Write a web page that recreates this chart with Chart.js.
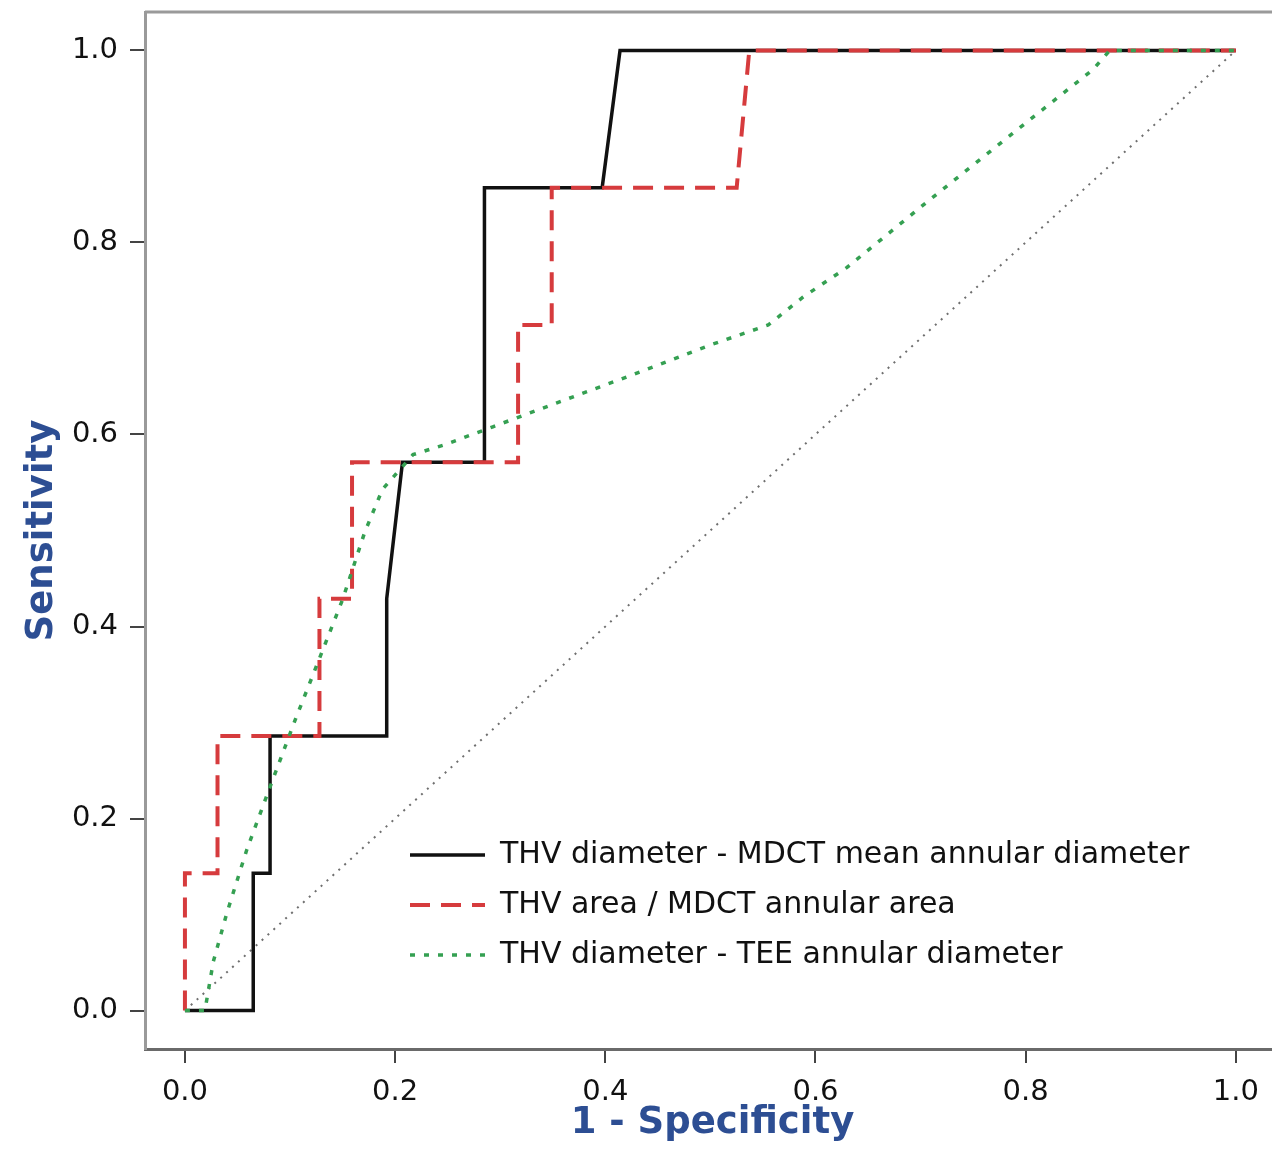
<!DOCTYPE html>
<html>
<head>
<meta charset="utf-8">
<script src="https://cdn.jsdelivr.net/npm/chart.js@4/dist/chart.umd.min.js"></script>
<style>
  html, body { margin: 0; padding: 0; background: #fff; overflow: hidden; }
  #wrap { position: relative; width: 1272px; height: 1152px; overflow: hidden; }
  canvas { display: block; }
</style>
</head>
<body>
<div id="wrap"><canvas id="c" width="1280" height="1152"></canvas></div>
<script>
// ---- data ----
const seriesNames = [
  "THV diameter - MDCT mean annular diameter",
  "THV area / MDCT annular area",
  "THV diameter - TEE annular diameter"
];

// THV diameter - MDCT mean annular diameter (black solid)
const mdctDiamX = [0, 0.065, 0.065, 0.081, 0.081, 0.192, 0.192, 0.207, 0.285, 0.285, 0.397, 0.414, 1.0];
const mdctDiamY = [0, 0,     0.143, 0.143, 0.286, 0.286, 0.429, 0.571, 0.571, 0.857, 0.857, 1.0,   1.0];

// THV area / MDCT annular area (red dashed)
const mdctAreaX = [0, 0,     0.031, 0.031, 0.128, 0.128, 0.159, 0.159, 0.317, 0.317, 0.349, 0.349, 0.525, 0.537, 1.0];
const mdctAreaY = [0, 0.143, 0.143, 0.286, 0.286, 0.429, 0.429, 0.571, 0.571, 0.714, 0.714, 0.857, 0.857, 1.0,   1.0];

// THV diameter - TEE annular diameter (green dotted)
const teeDiamX = [0, 0.019, 0.027, 0.040, 0.059, 0.081, 0.105, 0.127, 0.150, 0.171, 0.188, 0.217, 0.249, 0.293, 0.354, 0.428, 0.502, 0.555, 0.588, 0.630, 0.668, 0.707, 0.747, 0.787, 0.826, 0.864, 0.880, 1.0];
const teeDiamY = [0, 0,     0.051, 0.102, 0.168, 0.233, 0.303, 0.364, 0.428, 0.498, 0.543, 0.579, 0.590, 0.608, 0.633, 0.663, 0.694, 0.714, 0.743, 0.774, 0.808, 0.843, 0.878, 0.913, 0.947, 0.980, 1.0,   1.0];

// chance diagonal
const refX = [0, 1];
const refY = [0, 1];

const xTickValues = [0, 0.2, 0.4, 0.6, 0.8, 1.0];
const yTickValues = [0, 0.2, 0.4, 0.6, 0.8, 1.0];
const xTickLabels = ["0.0", "0.2", "0.4", "0.6", "0.8", "1.0"];
const yTickLabels = ["0.0", "0.2", "0.4", "0.6", "0.8", "1.0"];
const xTitle = "1 - Specificity";
const yTitle = "Sensitivity";

// ---- build ----
const pts = (xs, ys) => xs.map((x, i) => ({ x: x, y: ys[i] }));

Chart.defaults.font.family = "'DejaVu Sans', sans-serif";
Chart.defaults.color = "#111";

const framePlugin = {
  id: 'frameTop',
  beforeDatasetsDraw(chart) {
    const { ctx, chartArea: a } = chart;
    ctx.save();
    ctx.strokeStyle = '#9a9a9a';
    ctx.lineWidth = 3;
    ctx.beginPath();
    ctx.moveTo(a.left, a.top);
    ctx.lineTo(a.right + 10, a.top);
    ctx.stroke();
    ctx.restore();
  }
};

const legendPlace = {
  id: 'legendPlace',
  afterLayout(chart) {
    const lg = chart.legend;
    if (!lg) return;
    lg.left = 390;
    lg.top = 820;
    lg.right = chart.width;
    lg.bottom = chart.height;
    lg.width = lg.right - lg.left;
    lg.height = lg.bottom - lg.top;
  }
};

new Chart(document.getElementById('c'), {
  type: 'line',
  data: {
    datasets: [
      {
        label: seriesNames[0],
        data: pts(mdctDiamX, mdctDiamY),
        borderColor: '#111111',
        borderWidth: 3.5,
        order: 2
      },
      {
        label: seriesNames[1],
        data: pts(mdctAreaX, mdctAreaY),
        borderColor: '#d63b3d',
        borderWidth: 4,
        borderDash: [20, 11],
        order: 1
      },
      {
        label: seriesNames[2],
        data: pts(teeDiamX, teeDiamY),
        borderColor: '#35a052',
        borderWidth: 3.5,
        borderDash: [5, 9],
        order: 0
      },
      {
        label: 'reference',
        data: pts(refX, refY),
        borderColor: '#6f6f6f',
        borderWidth: 2,
        borderDash: [2, 6],
        order: 3
      }
    ]
  },
  options: {
    responsive: false,
    animation: false,
    devicePixelRatio: 1,
    elements: {
      point: { radius: 0, hoverRadius: 0 },
      line: { tension: 0, fill: false, borderCapStyle: 'butt', borderJoinStyle: 'miter' }
    },
    layout: { padding: { top: 12, left: 0, right: 0, bottom: 0 } },
    plugins: {
      tooltip: { enabled: false },
      legend: {
        display: true,
        position: 'chartArea',
        align: 'start',
        labels: {
          usePointStyle: true,
          pointStyle: 'line',
          pointStyleWidth: 75,
          boxHeight: 30,
          padding: 20,
          color: '#111',
          font: { size: 30 },
          filter: (item) => item.datasetIndex < 3,
          sort: (a, b) => a.datasetIndex - b.datasetIndex,
          generateLabels: (chart) => {
            const items = Chart.defaults.plugins.legend.labels.generateLabels(chart);
            items.forEach(it => {
              const ds = chart.data.datasets[it.datasetIndex];
              it.lineDash = ds.borderDash || [];
              it.lineDashOffset = 0;
              it.lineWidth = ds.borderWidth;
              it.strokeStyle = ds.borderColor;
              it.fillStyle = ds.borderColor;
              it.lineCap = 'butt';
              it.pointStyle = 'line';
            });
            return items;
          }
        }
      }
    },
    scales: {
      x: {
        type: 'linear',
        position: 'bottom',
        min: -0.038,
        max: 1.042,
        afterBuildTicks: (s) => { s.ticks = xTickValues.map(v => ({ value: v })); },
        afterFit: (s) => { s.height = 103; s.paddingLeft = 0; s.paddingRight = 0; },
        ticks: {
          padding: 12,
          font: { size: 29 },
          color: '#111',
          callback: (v) => { const i = xTickValues.indexOf(v); return i >= 0 ? xTickLabels[i] : ''; }
        },
        grid: { display: true, drawOnChartArea: false, drawTicks: true, tickLength: 14, color: '#444', lineWidth: 2 },
        border: { display: true, color: '#6a6a6a', width: 3 },
        title: {
          display: true,
          text: xTitle,
          color: '#2d4e93',
          font: { size: 37, weight: 'bold' },
          padding: { top: 0, bottom: 6 }
        }
      },
      y: {
        type: 'linear',
        position: 'left',
        min: -0.04,
        max: 1.04,
        afterBuildTicks: (s) => { s.ticks = yTickValues.map(v => ({ value: v })); },
        afterFit: (s) => { s.width = 145; s.paddingTop = 0; s.paddingBottom = 0; },
        ticks: {
          padding: 12,
          font: { size: 29 },
          color: '#111',
          callback: (v) => { const i = yTickValues.indexOf(v); return i >= 0 ? yTickLabels[i] : ''; }
        },
        grid: { display: true, drawOnChartArea: false, drawTicks: true, tickLength: 15, color: '#444', lineWidth: 2 },
        border: { display: true, color: '#9a9a9a', width: 3 },
        title: {
          display: true,
          text: yTitle,
          color: '#2d4e93',
          font: { size: 37, weight: 'bold' },
          padding: { top: 20, bottom: 0 }
        }
      }
    }
  },
  plugins: [framePlugin, legendPlace]
});
</script>
</body>
</html>
